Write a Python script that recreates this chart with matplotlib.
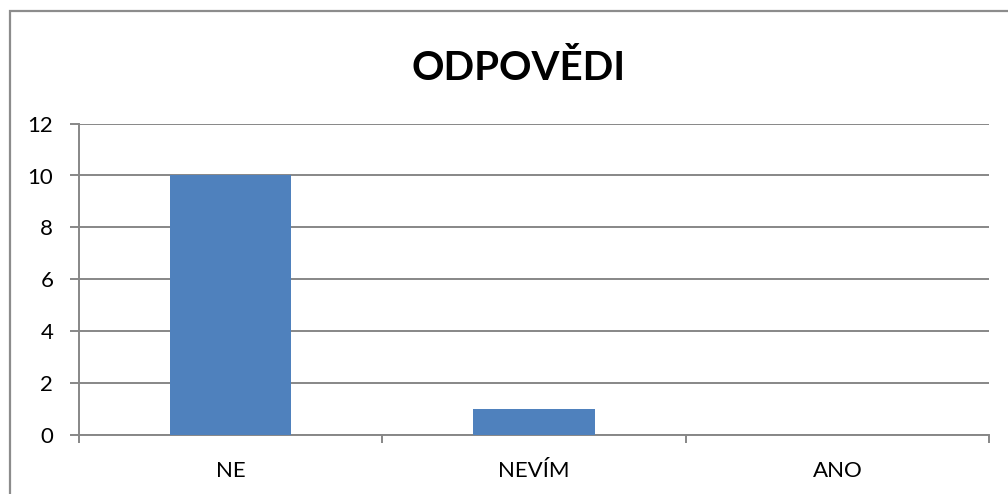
import matplotlib.pyplot as plt
from matplotlib.patches import Rectangle

# data
kategorie = ['NE', 'NEVÍM', 'ANO']
pocty = [10, 1, 0]
y_ticks = [0, 2, 4, 6, 8, 10, 12]

plt.rcParams['font.family'] = ['Lato', 'DejaVu Sans']

W, H = 1008, 494
fig = plt.figure(figsize=(W / 100, H / 100), dpi=100)

# ramecek grafu (vpravo a dole oriznuty)
fig.patches.append(Rectangle((9.5 / W, -0.1), 1.2, (H - 11.5) / H + 0.1,
                             transform=fig.transFigure, fill=False,
                             edgecolor='#8c8c8c', linewidth=1.6, clip_on=False))

left, right = 79 / W, 989 / W
bottom, top = (H - 434.5) / H, (H - 123.7) / H
ax = fig.add_axes([left, bottom, right - left, top - bottom])

x = range(len(kategorie))
ax.bar(x, pocty, width=0.4, color='#4F81BD', zorder=3)

ax.set_xlim(-0.5, len(kategorie) - 0.5)
ax.set_ylim(0, 12)
ax.set_yticks(y_ticks)
ax.set_xticks(list(x))
ax.set_xticklabels(kategorie)
ax.set_xticks([-0.5, 0.5, 1.5, 2.5], minor=True)

ax.grid(axis='y', color='#878787', linewidth=1.4, zorder=0)
for s in ['top', 'right']:
    ax.spines[s].set_visible(False)
ax.spines['left'].set_color('#878787')
ax.spines['bottom'].set_color('#878787')
ax.spines['left'].set_linewidth(1.4)
ax.spines['bottom'].set_linewidth(1.4)

ax.tick_params(axis='y', length=6.5, width=1.4, color='#878787', pad=12, labelsize=16)
ax.tick_params(axis='x', which='major', length=0, pad=19, labelsize=16)
ax.tick_params(axis='x', which='minor', length=6, width=1.4, color='#878787')

fig.text(519 / W, (H - 68) / H, 'ODPOVĚDI', ha='center', va='center',
         fontsize=29, fontweight='bold')

fig.savefig('out.png', dpi=100)
